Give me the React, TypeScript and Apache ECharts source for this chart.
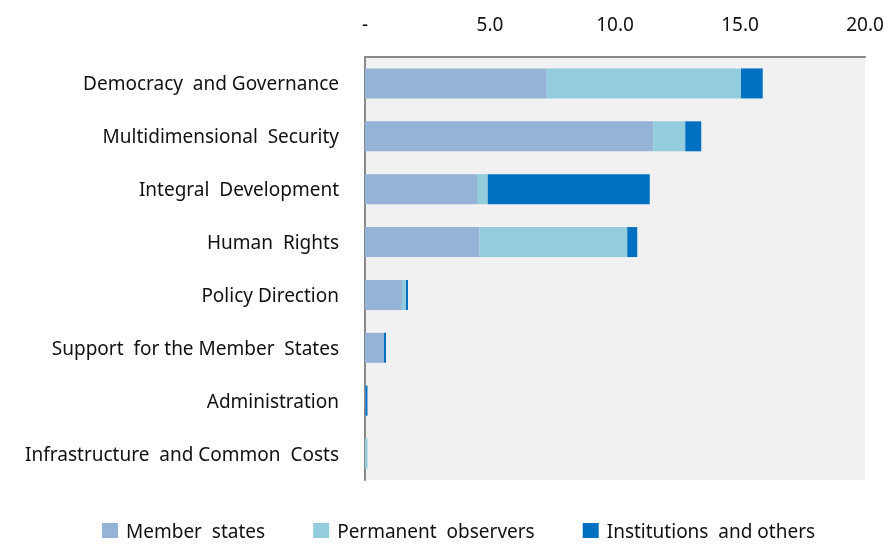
import React, { useEffect, useRef } from "react";
import * as echarts from "echarts";

const categories = [
  "Democracy  and Governance",
  "Multidimensional  Security",
  "Integral  Development",
  "Human  Rights",
  "Policy Direction",
  "Support  for the Member  States",
  "Administration",
  "Infrastructure  and Common  Costs",
];
const memberStates = [7.27, 11.53, 4.48, 4.57, 1.48, 0.76, 0.02, 0];
const permanentObservers = [7.77, 1.28, 0.43, 5.92, 0.16, 0, 0, 0.1];
const institutions = [0.87, 0.64, 6.48, 0.4, 0.08, 0.08, 0.08, 0];
const xTicks = [0, 5, 10, 15, 20];
const xTickLabels = ["-", "5.0", "10.0", "15.0", "20.0"];
const seriesNames = ["Member  states", "Permanent  observers", "Institutions  and others"];
const colors = ["#95B3D7", "#93CDDD", "#0070C0"];

const FONT = "'Noto Sans', sans-serif";
const FS = 19;

export default function App() {
  const ref = useRef<HTMLDivElement>(null);
  useEffect(() => {
    if (!ref.current) return;
    const chart = echarts.init(ref.current, undefined, { renderer: "svg" });
    const dataSets = [memberStates, permanentObservers, institutions];
    chart.setOption({
      animation: false,
      textStyle: { fontFamily: FONT },
      grid: {
        left: 365,
        right: 23,
        top: 57,
        bottom: 66,
        containLabel: false,
        show: true,
        backgroundColor: "#F1F1F1",
        borderWidth: 0,
      },
      legend: {
        top: 521,
        left: 102,
        padding: 0,
        itemWidth: 16,
        itemHeight: 15,
        itemGap: 48,
        icon: "rect",
        textStyle: {
          fontSize: FS,
          color: "#111111",
          fontFamily: FONT,
          lineHeight: 19,
          padding: [0, 0, 0, 3],
        },
        data: seriesNames,
      },
      xAxis: {
        type: "value",
        position: "top",
        min: xTicks[0],
        max: xTicks[xTicks.length - 1],
        interval: xTicks[1] - xTicks[0],
        axisLine: { show: true, lineStyle: { color: "#888888", width: 2 } },
        axisTick: { show: false },
        splitLine: { show: false },
        axisLabel: {
          margin: 24,
          fontSize: FS,
          color: "#111111",
          fontFamily: FONT,
          formatter: (v: number) => {
            const i = xTicks.indexOf(v);
            return i >= 0 ? xTickLabels[i] : "";
          },
        },
      },
      yAxis: {
        type: "category",
        inverse: true,
        data: categories,
        axisLine: { show: true, lineStyle: { color: "#888888", width: 2 } },
        axisTick: { show: false },
        axisLabel: { margin: 26, fontSize: FS, color: "#111111", fontFamily: FONT },
      },
      series: seriesNames.map((name, i) => ({
        name,
        type: "bar",
        stack: "total",
        barWidth: 30,
        itemStyle: { color: colors[i] },
        data: dataSets[i],
      })),
    });
    return () => chart.dispose();
  }, []);
  return (
    <div
      ref={ref}
      style={{ position: "fixed", left: 0, top: 0, width: 888, height: 546 }}
    />
  );
}
